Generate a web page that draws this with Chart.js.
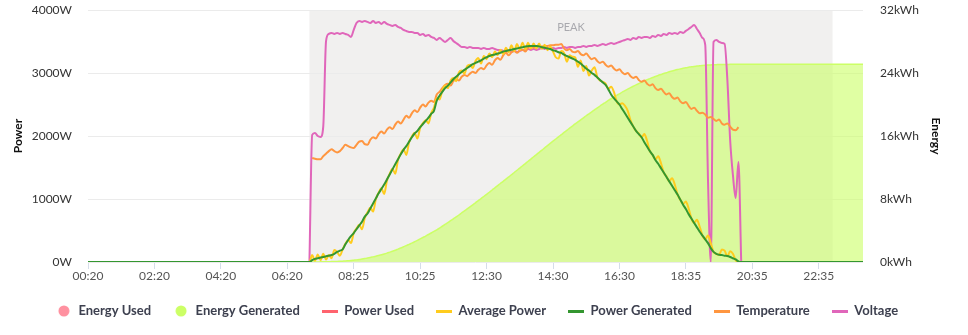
<!DOCTYPE html>
<html>
<head>
<meta charset="utf-8">
<title>Power and Energy</title>
<script src="https://cdn.jsdelivr.net/npm/chart.js@4.4.1/dist/chart.umd.min.js"></script>
<style>
    html, body { margin: 0; padding: 0; background: #fff; }
    #wrap { width: 968px; height: 335px; }
</style>
</head>
<body>
<div id="wrap"><canvas id="energyChart" width="968" height="335"></canvas></div>
<script>
// 5 minute samples from 00:20 to 23:55, a few samples missing in the log
var skippedTimes = ['07:40', '11:10', '16:45'];
var timeLabels = [];
for (var m = 20; m < 24 * 60; m += 5) {
    var t = String(Math.floor(m / 60)).padStart(2, '0') + ':' + String(m % 60).padStart(2, '0');
    if (skippedTimes.indexOf(t) === -1) timeLabels.push(t);
}

var peakStart = '07:00';
var peakEnd = '23:00';
var dayStartLabel = '07:00';

// daytime readings, one value per sample from 07:00 (W)
var powerGeneratedDay = [
    0, 30, 50, 60, 70, 80, 90, 100, 110, 130,
    160, 180, 200, 280, 350, 410, 460, 520, 580, 640,
    720, 770, 850, 930, 1010, 1090, 1160, 1230, 1310, 1390,
    1470, 1550, 1630, 1710, 1780, 1840, 1910, 1980, 2040, 2080,
    2140, 2190, 2240, 2290, 2350, 2400, 2560, 2640, 2700, 2760,
    2800, 2850, 2900, 2940, 2980, 3015, 3050, 3080, 3110, 3140,
    3160, 3180, 3200, 3230, 3250, 3270, 3285, 3295, 3310, 3320,
    3340, 3350, 3360, 3370, 3380, 3390, 3400, 3410, 3420, 3425,
    3430, 3430, 3430, 3420, 3410, 3400, 3390, 3380, 3360, 3350,
    3330, 3320, 3290, 3270, 3250, 3230, 3210, 3180, 3150, 3110,
    3070, 3040, 3000, 2970, 2930, 2890, 2850, 2810, 2740, 2660,
    2600, 2550, 2500, 2430, 2360, 2290, 2220, 2150, 2080, 2030,
    1980, 1900, 1830, 1760, 1700, 1620, 1560, 1490, 1420, 1350,
    1280, 1210, 1140, 1070, 990, 910, 840, 760, 690, 620,
    550, 480, 420, 360, 300, 220, 160, 130, 115, 110,
    100, 95, 80, 60, 40, 10, 0
];

var averagePowerDay = [
    0, 110, 20, 120, 30, 130, 40, 110, 60, 190,
    160, 100, 200, 290, 350, 300, 460, 530, 590, 520,
    700, 790, 860, 800, 1000, 1100, 1170, 1080, 1290, 1400,
    1480, 1400, 1620, 1720, 1790, 1700, 1900, 1990, 2050, 1960,
    2130, 2200, 2250, 2200, 2360, 2450, 2600, 2580, 2720, 2800,
    2760, 2880, 2920, 2870, 3010, 3040, 2990, 3110, 3130, 3080,
    3190, 3240, 3150, 3270, 3220, 3310, 3250, 3340, 3280, 3370,
    3300, 3400, 3330, 3440, 3350, 3460, 3370, 3480, 3380, 3480,
    3390, 3470, 3390, 3470, 3380, 3450, 3360, 3420, 3340, 3250,
    3230, 3350, 3320, 3180, 3280, 3260, 3250, 3100, 3200, 3030,
    3110, 2960, 3040, 3090, 2940, 2880, 2860, 2830, 2750, 2780,
    2700, 2550, 2500, 2520, 2480, 2400, 2250, 2150, 2080, 2040,
    1980, 2030, 1920, 1760, 1700, 1630, 1680, 1570, 1420, 1360,
    1280, 1330, 1230, 1070, 990, 920, 960, 850, 690, 620,
    670, 560, 420, 360, 420, 300, 160, 130, 110, 200,
    180, 90, 170, 130, 30, 0, 0
];

// inverter temperature (°C)
var temperatureDay = [
    null, 16.5, 16.4, 16.3, 16.3, 16.8, 17.2, 17.6, 17.9, 17.6,
    17.4, 17.6, 18.1, 18.6, 18.4, 18.2, 18.1, 18.6, 19.1, 19.2,
    18.7, 18.6, 19.4, 19.8, 19.6, 20.3, 20.7, 20.4, 21.0, 21.4,
    21.1, 21.8, 22.3, 22.0, 22.6, 23.2, 22.9, 23.6, 24.1, 23.8,
    24.5, 25.0, 24.7, 25.3, 25.6, 25.4, 26.6, 27.0, 27.6, 28.1,
    28.3, 28.0, 28.7, 29.0, 28.8, 29.4, 29.7, 29.5, 29.9, 30.2,
    30.0, 30.5, 30.8, 30.6, 31.2, 31.6, 31.3, 32.0, 32.4, 32.1,
    32.8, 33.2, 32.8, 33.3, 33.5, 33.2, 33.6, 33.7, 33.4, 34.0,
    34.3, 34.0, 34.2, 34.3, 34.2, 34.3, 34.3, 34.4, 34.4, 34.5,
    34.5, 34.6, 33.9, 33.6, 33.8, 33.4, 33.3, 33.5, 33.0, 32.8,
    33.1, 32.6, 32.2, 32.4, 31.9, 31.6, 31.8, 31.3, 31.0, 31.2,
    30.7, 30.4, 30.6, 30.1, 29.8, 30.0, 29.5, 29.2, 29.4, 28.9,
    28.6, 28.8, 28.3, 28.0, 28.2, 27.6, 27.3, 27.5, 27.0, 26.6,
    26.8, 26.2, 25.9, 26.1, 25.5, 25.2, 25.4, 24.8, 24.3, 24.5,
    24.0, 23.6, 23.7, 23.4, 22.9, 23.0, 22.7, 22.4, 22.6, 22.0,
    21.8, 22.0, 21.5, 21.0, 20.9, 21.4, null
];

// grid voltage (V)
var voltageDay = [
    0, 131.1, 133.1, 130.0, 129.0, 140.0, 228.0, 235.3, 236.3, 235.3,
    236.3, 235.3, 236.3, 235.3, 234.3, 232.2, 239.4, 246.6, 248.7, 247.7,
    248.7, 247.7, 246.6, 248.7, 246.6, 247.7, 245.6, 247.7, 245.6, 244.6,
    243.6, 244.6, 242.5, 241.5, 239.4, 238.4, 237.4, 237.4, 236.3, 236.3,
    234.3, 235.3, 233.2, 234.3, 232.2, 231.2, 229.1, 231.2, 229.1, 227.0,
    229.1, 231.2, 228.1, 226.0, 223.9, 221.9, 221.9, 220.8, 221.9, 220.8,
    220.8, 220.8, 219.8, 220.8, 219.8, 219.8, 220.8, 219.8, 218.8, 218.8,
    217.8, 216.7, 217.8, 216.7, 217.8, 216.7, 217.8, 218.8, 218.8, 219.8,
    218.8, 219.8, 218.8, 219.8, 220.8, 219.8, 220.8, 219.8, 220.8, 219.8,
    220.8, 220.8, 221.9, 220.8, 221.9, 221.9, 220.8, 221.9, 221.9, 222.9,
    221.9, 222.9, 222.9, 223.9, 222.9, 223.9, 225.0, 223.9, 225.0, 226.0,
    225.0, 226.0, 227.0, 228.1, 229.1, 230.1, 229.1, 231.2, 230.1, 232.2,
    231.2, 232.2, 232.2, 231.2, 233.2, 232.2, 234.3, 233.2, 235.3, 234.3,
    236.3, 235.3, 236.3, 235.3, 237.4, 236.3, 238.4, 240.4, 242.5, 244.6,
    240.4, 236.3, 231.2, 223.9, 84.6, 0, 227.0, 229.1, 227.0, 226.0,
    225.0, 187.8, 125.9, 89.8, 66.0, 103.2, 0
];

// energy generated so far today (kWh)
var energyGeneratedDay = [
    0, 0, 0.01, 0.01, 0.02, 0.02, 0.03, 0.04, 0.05, 0.06,
    0.07, 0.09, 0.11, 0.13, 0.16, 0.19, 0.23, 0.27, 0.32, 0.38,
    0.44, 0.50, 0.57, 0.65, 0.73, 0.82, 0.92, 1.02, 1.13, 1.25,
    1.37, 1.50, 1.64, 1.78, 1.93, 2.08, 2.24, 2.40, 2.57, 2.75,
    2.93, 3.11, 3.29, 3.49, 3.68, 3.88, 4.09, 4.31, 4.54, 4.77,
    5.00, 5.24, 5.48, 5.73, 5.97, 6.23, 6.48, 6.74, 7.00, 7.26,
    7.52, 7.79, 8.05, 8.32, 8.59, 8.86, 9.14, 9.41, 9.69, 9.97,
    10.24, 10.52, 10.80, 11.08, 11.37, 11.65, 11.93, 12.22, 12.50, 12.79,
    13.07, 13.36, 13.64, 13.93, 14.21, 14.50, 14.78, 15.06, 15.34, 15.62,
    15.90, 16.17, 16.45, 16.72, 16.99, 17.26, 17.53, 17.79, 18.05, 18.31,
    18.57, 18.82, 19.07, 19.32, 19.56, 19.81, 20.04, 20.28, 20.51, 20.73,
    20.94, 21.16, 21.36, 21.57, 21.76, 21.95, 22.14, 22.32, 22.49, 22.66,
    22.83, 22.98, 23.14, 23.28, 23.42, 23.56, 23.69, 23.81, 23.93, 24.04,
    24.15, 24.25, 24.35, 24.44, 24.52, 24.60, 24.67, 24.73, 24.79, 24.84,
    24.88, 24.92, 24.96, 24.99, 25.01, 25.03, 25.05, 25.06, 25.07, 25.07,
    25.08, 25.09, 25.10, 25.10, 25.11, 25.11, 25.11
];
var energyAfterSunset = 25.11;

// nothing was consumed on this day
var energyUsed = [];
var powerUsed = [];

var dayStart = timeLabels.indexOf(dayStartLabel);

function fullDay(dayValues, before, after) {
    var out = [];
    for (var i = 0; i < dayStart; i++) out.push(before);
    out = out.concat(dayValues);
    while (out.length < timeLabels.length) out.push(after);
    return out;
}

// small swatches for the legend
function swatch(color, kind) {
    var c = document.createElement('canvas');
    var g;
    if (kind === 'dot') {
        c.width = 12; c.height = 12;
        g = c.getContext('2d');
        g.fillStyle = color;
        g.beginPath();
        g.arc(6, 6, 5.5, 0, Math.PI * 2);
        g.fill();
    } else {
        c.width = 16; c.height = 3;
        g = c.getContext('2d');
        g.fillStyle = color;
        g.fillRect(0, 0, 16, 3);
    }
    return c;
}

// grey band behind the peak tariff hours
var peakBand = {
    id: 'peakBand',
    beforeDraw: function (chart) {
        var xs = chart.scales.x, area = chart.chartArea, ctx = chart.ctx;
        var x0 = xs.getPixelForValue(timeLabels.indexOf(peakStart));
        var x1 = xs.getPixelForValue(timeLabels.indexOf(peakEnd));
        ctx.save();
        ctx.fillStyle = 'rgb(241,240,239)';
        ctx.fillRect(x0, area.top, x1 - x0, area.bottom - area.top);
        ctx.fillStyle = '#a9a9ae';
        ctx.font = '11px Lato';
        ctx.textAlign = 'center';
        ctx.fillText('PEAK', (x0 + x1) / 2, area.top + 17);
        ctx.restore();
    }
};

// keep the value axes from pushing the plot down
function fixAxis(width) {
    return function (axis) {
        axis.width = width;
        axis.paddingTop = 0;
        axis.paddingBottom = 0;
    };
}

document.addEventListener('DOMContentLoaded', function () {
    Chart.defaults.font.family = 'Lato';
    Chart.defaults.font.size = 12;

    var colors = {
        energyUsed: 'rgb(255,145,160)',
        energyGenerated: 'rgb(204,255,102)',
        powerUsed: 'rgb(255,99,110)',
        averagePower: 'rgb(255,204,30)',
        powerGenerated: 'rgb(52,150,48)',
        temperature: 'rgb(255,150,64)',
        voltage: 'rgb(224,102,186)'
    };
    var swatches = [
        swatch(colors.energyUsed, 'dot'),
        swatch(colors.energyGenerated, 'dot'),
        swatch(colors.powerUsed, 'line'),
        swatch(colors.averagePower, 'line'),
        swatch(colors.powerGenerated, 'line'),
        swatch(colors.temperature, 'line'),
        swatch(colors.voltage, 'line')
    ];

    var ctx = document.getElementById('energyChart').getContext('2d');
    var energyChart = new Chart(ctx, {
        type: 'line',
        data: {
            labels: timeLabels,
            datasets: [{
                label: 'Energy Used',
                data: energyUsed,
                yAxisID: 'yEnergy',
                borderColor: colors.energyUsed,
                backgroundColor: 'rgba(255,145,160,0.6)',
                fill: 'origin',
                borderWidth: 1.5,
                order: 5
            }, {
                label: 'Energy Generated',
                data: fullDay(energyGeneratedDay, 0, energyAfterSunset),
                yAxisID: 'yEnergy',
                borderColor: colors.energyGenerated,
                backgroundColor: 'rgba(204,255,102,0.6)',
                fill: 'origin',
                borderWidth: 1.5,
                order: 6
            }, {
                label: 'Power Used',
                data: powerUsed,
                yAxisID: 'yPower',
                borderColor: colors.powerUsed,
                order: 4
            }, {
                label: 'Average Power',
                data: fullDay(averagePowerDay, 0, 0),
                yAxisID: 'yPower',
                borderColor: colors.averagePower,
                order: 1
            }, {
                label: 'Power Generated',
                data: fullDay(powerGeneratedDay, 0, 0),
                yAxisID: 'yPower',
                borderColor: colors.powerGenerated,
                order: 0
            }, {
                label: 'Temperature',
                data: fullDay(temperatureDay, null, null),
                yAxisID: 'yTemp',
                borderColor: colors.temperature,
                order: 2
            }, {
                label: 'Voltage',
                data: fullDay(voltageDay, null, null),
                yAxisID: 'yVolt',
                borderColor: colors.voltage,
                order: 3
            }]
        },
        options: {
            responsive: false,
            animation: false,
            layout: { padding: { left: 7, right: 21, top: 10, bottom: 7.5 } },
            elements: {
                point: { radius: 0 },
                line: { borderWidth: 2, cubicInterpolationMode: 'monotone' }
            },
            scales: {
                x: {
                    ticks: { autoSkip: false, maxRotation: 0, color: '#555', padding: 0 },
                    afterBuildTicks: function (axis) {
                        axis.ticks = axis.ticks.filter(function (tk) { return tk.value % 24 === 0; });
                    },
                    grid: { drawOnChartArea: false, drawTicks: true, tickLength: 7, color: '#d5dde9' },
                    border: { display: false },
                    afterFit: function (axis) { axis.height = 20.5; }
                },
                yPower: {
                    position: 'left',
                    min: 0,
                    max: 4000,
                    ticks: {
                        stepSize: 1000,
                        padding: 16,
                        color: '#333',
                        callback: function (v) { return v + 'W'; }
                    },
                    grid: { color: '#ebebeb', drawTicks: false },
                    border: { display: false },
                    title: { display: true, text: 'Power', color: '#111', font: { weight: 'bold' } },
                    afterFit: fixAxis(81)
                },
                yEnergy: {
                    position: 'right',
                    min: 0,
                    max: 32,
                    ticks: {
                        stepSize: 8,
                        padding: 17,
                        color: '#333',
                        callback: function (v) { return v + 'kWh'; }
                    },
                    grid: { display: false, drawTicks: false },
                    border: { display: false },
                    title: { display: true, text: 'Energy', color: '#111', font: { weight: 'bold' } },
                    afterFit: fixAxis(84)
                },
                yTemp: { display: false, min: 0, max: 40 },
                yVolt: { display: false, min: 0, max: 260 }
            },
            plugins: {
                tooltip: { enabled: false },
                legend: {
                    position: 'bottom',
                    labels: {
                        usePointStyle: true,
                        pointStyleWidth: 16,
                        padding: 22,
                        color: '#3d404f',
                        font: { size: 13, weight: 'bold' },
                        sort: function (a, b) { return a.datasetIndex - b.datasetIndex; },
                        generateLabels: function (chart) {
                            var items = Chart.defaults.plugins.legend.labels.generateLabels(chart);
                            items.forEach(function (it) { it.pointStyle = swatches[it.datasetIndex]; });
                            return items;
                        }
                    }
                }
            }
        },
        plugins: [peakBand]
    });
});
</script>
</body>
</html>
